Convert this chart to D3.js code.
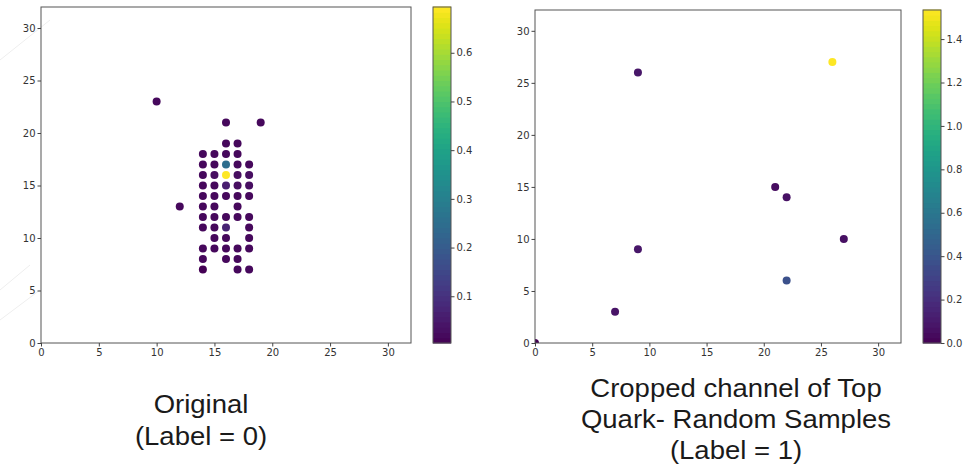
<!DOCTYPE html>
<html>
<head>
<meta charset="utf-8">
<script src="https://cdn.jsdelivr.net/npm/d3@7"></script>
<style>
  body { margin: 0; background: #fff; }
  svg { display: block; }
  .tick text { font-family: "DejaVu Sans", sans-serif; font-size: 10px; fill: #333; }
  .tick line { stroke: #444; }
  .caption { font-family: "Liberation Sans", Arial, sans-serif; font-size: 25px; fill: #1a1a1a; }
</style>
</head>
<body>
<div id="chart"></div>
<script>
// left panel: original image, nonzero pixels
const origX = [10, 16, 19, 16, 17,
  14, 15, 16, 17,
  14, 15, 16, 17, 18,
  14, 15, 16, 17, 18,
  14, 15, 16, 17, 18,
  14, 15, 16, 17, 18,
  12, 14, 15, 17,
  14, 15, 16, 17, 18,
  14, 15, 16, 18,
  15, 16, 18,
  14, 15, 16, 17, 18,
  14, 16, 17,
  14, 17, 18];
const origY = [23, 21, 21, 19, 19,
  18, 18, 18, 18,
  17, 17, 17, 17, 17,
  16, 16, 16, 16, 16,
  15, 15, 15, 15, 15,
  14, 14, 14, 14, 14,
  13, 13, 13, 13,
  12, 12, 12, 12, 12,
  11, 11, 11, 11,
  10, 10, 10,
  9, 9, 9, 9, 9,
  8, 8, 8,
  7, 7, 7];
const origVal = [0.02, 0.02, 0.02, 0.02, 0.02,
  0.02, 0.02, 0.02, 0.02,
  0.02, 0.02, 0.25, 0.02, 0.02,
  0.02, 0.03, 0.694, 0.03, 0.03,
  0.02, 0.02, 0.06, 0.03, 0.03,
  0.02, 0.02, 0.02, 0.02, 0.02,
  0.02, 0.02, 0.02, 0.02,
  0.02, 0.02, 0.02, 0.02, 0.02,
  0.02, 0.02, 0.07, 0.02,
  0.02, 0.02, 0.02,
  0.02, 0.02, 0.02, 0.02, 0.02,
  0.02, 0.02, 0.02,
  0.004, 0.02, 0.02];
const origTicks = [0.1, 0.2, 0.3, 0.4, 0.5, 0.6];

// right panel: cropped channel, random samples
const cropX = [0, 7, 9, 9, 21, 22, 27, 22, 26];
const cropY = [0, 3, 9, 26, 15, 14, 10, 6, 27];
const cropVal = [0.0, 0.08, 0.09, 0.09, 0.05, 0.07, 0.06, 0.38, 1.534];
const cropTicks = [0.0, 0.2, 0.4, 0.6, 0.8, 1.0, 1.2, 1.4];

const axisTicks = [0, 5, 10, 15, 20, 25, 30];
const captionLeft = ["Original", "(Label = 0)"];
const captionRight = ["Cropped channel of Top", "Quark- Random Samples", "(Label = 1)"];

const W = 971, H = 468;
const svg = d3.select("#chart").append("svg").attr("width", W).attr("height", H);

// faint slide decoration lines on the left edge
const deco = [[0, 60, 50, 20], [0, 320, 40, 290], [0, 290, 30, 265]];
svg.selectAll("line.deco").data(deco).join("line")
  .attr("x1", d => d[0]).attr("y1", d => d[1]).attr("x2", d => d[2]).attr("y2", d => d[3])
  .attr("stroke", "#eee").attr("stroke-width", 1);

function panel(id, xs, ys, vals, box, cbar, cTicks, cDomain, fmt) {
  const data = xs.map((x, i) => ({x: x, y: ys[i], v: vals[i]}));
  const x = d3.scaleLinear().domain([0, 32]).range([box.l, box.r]);
  const y = d3.scaleLinear().domain([0, 32]).range([box.b, box.t]);
  const color = d3.scaleSequential(d3.interpolateViridis).domain(cDomain);

  svg.append("clipPath").attr("id", "clip" + id)
    .append("rect").attr("x", box.l).attr("y", box.t)
    .attr("width", box.r - box.l).attr("height", box.b - box.t);

  svg.append("g").attr("clip-path", `url(#clip${id})`)
    .selectAll("circle").data(data).join("circle")
      .attr("cx", d => x(d.x)).attr("cy", d => y(d.y)).attr("r", 4)
      .attr("fill", d => color(d.v));

  svg.append("rect").attr("x", box.l).attr("y", box.t)
    .attr("width", box.r - box.l).attr("height", box.b - box.t)
    .attr("fill", "none").attr("stroke", "#555").attr("stroke-width", 1);

  const gx = svg.append("g").attr("transform", `translate(0,${box.b})`)
    .call(d3.axisBottom(x).tickValues(axisTicks).tickSize(3.5).tickPadding(2));
  gx.select(".domain").remove();
  const gy = svg.append("g").attr("transform", `translate(${box.l},0)`)
    .call(d3.axisLeft(y).tickValues(axisTicks).tickSize(3.5).tickPadding(2));
  gy.select(".domain").remove();

  // colorbar
  const cy = d3.scaleLinear().domain(cDomain).range([box.b, box.t]);
  const steps = d3.range(64).map(i => cDomain[0] + (cDomain[1] - cDomain[0]) * i / 64);
  const dv = (cDomain[1] - cDomain[0]) / 64;
  svg.append("g").selectAll("rect").data(steps).join("rect")
    .attr("x", cbar.l).attr("width", cbar.r - cbar.l)
    .attr("y", d => cy(d + dv) - 0.5).attr("height", d => cy(d) - cy(d + dv) + 1)
    .attr("fill", d => color(d + dv / 2));
  svg.append("rect").attr("x", cbar.l).attr("y", box.t)
    .attr("width", cbar.r - cbar.l).attr("height", box.b - box.t)
    .attr("fill", "none").attr("stroke", "#555").attr("stroke-width", 1);
  const gc = svg.append("g").attr("transform", `translate(${cbar.r},0)`)
    .call(d3.axisRight(cy).tickValues(cTicks).tickFormat(fmt).tickSize(3.5).tickPadding(2));
  gc.select(".domain").remove();
}

panel("L", origX, origY, origVal, {l: 41, r: 411, t: 7, b: 343},
  {l: 433, r: 451}, origTicks, [0.004, 0.694], d3.format(".1f"));
panel("R", cropX, cropY, cropVal, {l: 535, r: 901, t: 10, b: 343},
  {l: 923, r: 941}, cropTicks, [0, 1.534], d3.format(".1f"));

// captions, slightly stretched like the slide text
svg.selectAll("text.capL").data(captionLeft).join("text")
  .attr("class", "caption").attr("text-anchor", "middle")
  .attr("transform", (d, i) => `translate(201,${413 + i * 32}) scale(1.1,1)`)
  .text(d => d);
svg.selectAll("text.capR").data(captionRight).join("text")
  .attr("class", "caption").attr("text-anchor", "middle")
  .attr("transform", (d, i) => `translate(736,${397 + i * 31}) scale(1.1,1)`)
  .text(d => d);
</script>
</body>
</html>
